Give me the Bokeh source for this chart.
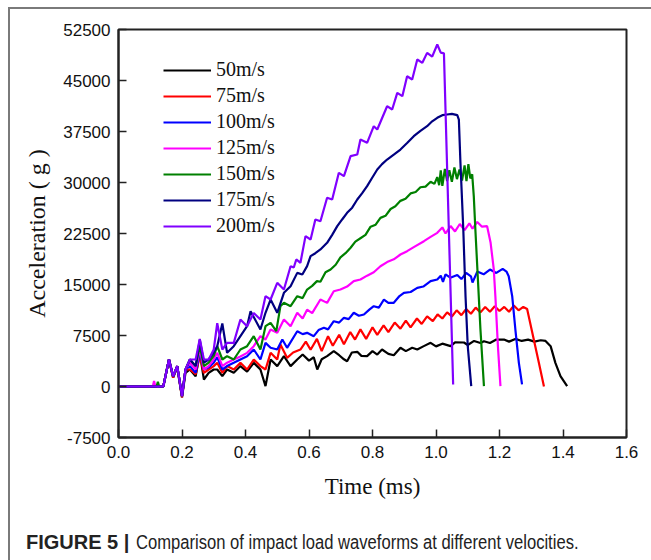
from bokeh.plotting import figure
from bokeh.models import (FixedTicker, NumeralTickFormatter, Legend, LegendItem,
                          Range1d, Div, Column)
from bokeh.embed import file_html
from bokeh.resources import INLINE

# ---------------- data (time in ms, acceleration in g) ----------------
labels = ["50m/s", "75m/s", "100m/s", "125m/s", "150m/s", "175m/s", "200m/s"]
colors = ["#000000", "#ff0000", "#0000ff", "#ff00ff", "#008000", "#000080", "#8000ff"]

x_ticks = [0.0, 0.2, 0.4, 0.6, 0.8, 1.0, 1.2, 1.4, 1.6]
y_ticks = [-7500, 0, 7500, 15000, 22500, 30000, 37500, 45000, 52500]

v50 = [(0, 0), (0.141, 0), (0.159, 3970), (0.172, 1300), (0.185, 2800), (0.200, -1600),
       (0.211, 2000), (0.225, 2500), (0.243, 1500), (0.256, 4950), (0.269, 1030), (0.284, 2000),
       (0.300, 2500), (0.311, 2500), (0.327, 1520), (0.342, 2500), (0.363, 2010), (0.384, 3000),
       (0.405, 2200), (0.426, 3480), (0.447, 2500), (0.463, 50), (0.479, 3970), (0.500, 3000),
       (0.521, 4460), (0.542, 3000), (0.563, 3970), (0.580, 4700), (0.600, 3800), (0.615, 4300),
       (0.626, 2500), (0.640, 4000), (0.657, 4460), (0.678, 5190), (0.695, 4600), (0.710, 4000),
       (0.720, 3720), (0.735, 5000), (0.752, 5100), (0.765, 4500), (0.783, 4460), (0.800, 5200),
       (0.815, 4700), (0.830, 5440), (0.850, 4800), (0.867, 4600), (0.888, 5690), (0.905, 5200),
       (0.925, 5700), (0.941, 5440), (0.960, 5900), (0.983, 6420), (1.000, 5900), (1.020, 6300),
       (1.046, 5930), (1.060, 6500), (1.088, 6470), (1.100, 6100), (1.120, 6700), (1.140, 6400),
       (1.151, 6660), (1.170, 6400), (1.190, 6900), (1.214, 6910), (1.230, 6600), (1.250, 7000),
       (1.270, 6700), (1.290, 6900), (1.310, 6600), (1.330, 6800), (1.345, 6700), (1.361, 5930),
       (1.376, 3480), (1.392, 1520), (1.413, 50)]

v75 = [(0, 0), (0.141, 0), (0.159, 3970), (0.172, 1300), (0.185, 3000), (0.200, -1600),
       (0.211, 2500), (0.225, 2500), (0.243, 1800), (0.256, 4500), (0.269, 2000), (0.284, 2500),
       (0.300, 3000), (0.311, 3500), (0.327, 2010), (0.342, 3000), (0.363, 2500), (0.384, 3480),
       (0.405, 2500), (0.426, 3970), (0.447, 3000), (0.463, 2500), (0.479, 4950), (0.500, 3970),
       (0.510, 6180), (0.531, 4220), (0.550, 5000), (0.573, 5440), (0.590, 6600), (0.605, 5400),
       (0.625, 7000), (0.640, 5200), (0.660, 7400), (0.675, 6000), (0.695, 7600), (0.710, 6200),
       (0.730, 8000), (0.745, 6900), (0.762, 8400), (0.780, 7000), (0.800, 8700), (0.815, 7600),
       (0.835, 9000), (0.850, 8000), (0.870, 9400), (0.888, 8500), (0.905, 9700), (0.920, 8700),
       (0.940, 10000), (0.955, 9200), (0.972, 10300), (0.990, 9600), (1.005, 10600), (1.020, 10000),
       (1.035, 10900), (1.050, 10300), (1.065, 11200), (1.080, 10500), (1.095, 11400), (1.110, 10700),
       (1.125, 11600), (1.140, 10900), (1.155, 11700), (1.170, 11000), (1.185, 11800), (1.200, 11100),
       (1.215, 11700), (1.230, 11000), (1.245, 11900), (1.260, 11200), (1.275, 11700), (1.287, 11400),
       (1.292, 10340), (1.308, 6910), (1.324, 3480), (1.340, 0)]

v100 = [(0, 0), (0.141, 0), (0.159, 3970), (0.172, 1500), (0.185, 3000), (0.200, -1400),
        (0.211, 2500), (0.225, 3000), (0.243, 2000), (0.256, 5000), (0.269, 2500), (0.284, 2800),
        (0.300, 3500), (0.311, 4300), (0.327, 2500), (0.342, 3000), (0.363, 3480), (0.384, 3970),
        (0.405, 4460), (0.426, 5440), (0.447, 3970), (0.463, 6420), (0.479, 5700), (0.500, 5440),
        (0.516, 6910), (0.531, 5690), (0.563, 8130), (0.580, 7700), (0.594, 7890), (0.615, 7400),
        (0.630, 8300), (0.647, 8630), (0.660, 8400), (0.678, 9600), (0.695, 9400), (0.710, 10100),
        (0.725, 9900), (0.741, 10840), (0.757, 10400), (0.773, 10590), (0.790, 11300), (0.804, 11810),
        (0.820, 11600), (0.836, 12790), (0.850, 12300), (0.867, 12310), (0.885, 13300), (0.899, 13780),
        (0.920, 13900), (0.941, 14510), (0.960, 14700), (0.983, 15490), (1.004, 15740), (1.015, 16300),
        (1.022, 15400), (1.030, 16500), (1.045, 16000), (1.067, 16400), (1.080, 15800), (1.095, 16700),
        (1.110, 16200), (1.115, 15300), (1.130, 16900), (1.150, 16500), (1.170, 17200), (1.190, 16700),
        (1.210, 17300), (1.222, 16900), (1.229, 16220), (1.240, 13280), (1.250, 8380), (1.261, 3480),
        (1.271, 300)]

v125 = [(0, 0), (0.108, 0), (0.112, 800), (0.116, 0), (0.141, 0), (0.159, 3970), (0.172, 1500),
        (0.185, 3000), (0.200, -1400), (0.211, 2500), (0.225, 3500), (0.243, 2500), (0.256, 5500),
        (0.269, 2500), (0.284, 3000), (0.300, 4000), (0.311, 4950), (0.327, 3000), (0.342, 3500),
        (0.363, 3970), (0.384, 4400), (0.405, 4950), (0.426, 5930), (0.447, 7400), (0.463, 6910),
        (0.479, 8380), (0.500, 7890), (0.521, 9850), (0.542, 8870), (0.563, 10840), (0.580, 10000),
        (0.594, 11300), (0.610, 10800), (0.636, 12790), (0.657, 12300), (0.678, 14000), (0.699, 14260),
        (0.720, 14700), (0.741, 15500), (0.762, 15740), (0.783, 16300), (0.804, 16800), (0.825, 17690),
        (0.846, 18300), (0.867, 18700), (0.888, 19410), (0.909, 19900), (0.930, 20500), (0.962, 21370),
        (0.983, 22000), (1.004, 22600), (1.020, 23400), (1.030, 22500), (1.046, 23600), (1.060, 22800),
        (1.075, 23900), (1.090, 23000), (1.105, 24000), (1.115, 23200), (1.130, 24200), (1.145, 23500),
        (1.161, 23580), (1.172, 21130), (1.182, 17210), (1.187, 13280), (1.195, 5930), (1.203, 50)]

v150 = [(0, 0), (0.120, 0), (0.124, 700), (0.128, 0), (0.141, 0), (0.159, 3970), (0.172, 1500),
        (0.185, 3000), (0.200, -1400), (0.211, 2500), (0.225, 3970), (0.243, 3000), (0.256, 6000),
        (0.269, 3000), (0.284, 3500), (0.300, 4500), (0.311, 5930), (0.327, 3970), (0.342, 4460),
        (0.363, 3970), (0.384, 5440), (0.405, 5930), (0.426, 7400), (0.447, 5440), (0.463, 8870),
        (0.479, 9360), (0.497, 8140), (0.510, 11810), (0.521, 12310), (0.542, 11810), (0.563, 13280),
        (0.580, 13000), (0.594, 14260), (0.610, 14800), (0.625, 15500), (0.636, 15400), (0.652, 16800),
        (0.668, 17200), (0.684, 17900), (0.699, 19000), (0.715, 19600), (0.731, 20400), (0.746, 21300),
        (0.762, 21800), (0.778, 22300), (0.794, 23500), (0.810, 23800), (0.825, 24800), (0.841, 25100),
        (0.857, 26100), (0.872, 26500), (0.888, 27300), (0.904, 27600), (0.920, 28400), (0.936, 28600),
        (0.951, 29300), (0.967, 29400), (0.983, 30100), (0.995, 29800), (1.004, 30800), (1.010, 29600),
        (1.015, 31800), (1.020, 29500), (1.028, 32000), (1.035, 30200), (1.042, 31800), (1.050, 30100),
        (1.058, 32200), (1.066, 30500), (1.074, 31900), (1.082, 30300), (1.090, 32500), (1.096, 30200),
        (1.102, 32700), (1.108, 30600), (1.114, 31200), (1.119, 27990), (1.124, 23090), (1.132, 15740),
        (1.140, 8380), (1.151, 50)]

v175 = [(0, 0), (0.141, 0), (0.159, 3970), (0.172, 1500), (0.185, 3000), (0.200, -1400),
        (0.211, 2500), (0.225, 3970), (0.243, 3000), (0.256, 6900), (0.269, 3500), (0.284, 3970),
        (0.300, 5000), (0.311, 5930), (0.327, 9260), (0.342, 4950), (0.363, 5930), (0.384, 7400),
        (0.405, 8870), (0.416, 11080), (0.447, 8380), (0.463, 10840), (0.479, 12790), (0.500, 10840),
        (0.521, 13780), (0.542, 14750), (0.563, 16710), (0.579, 16470), (0.594, 17700), (0.605, 19170),
        (0.620, 19600), (0.636, 20150), (0.657, 21130), (0.673, 22300), (0.689, 23580), (0.705, 24600),
        (0.720, 25540), (0.736, 26300), (0.752, 27500), (0.767, 28400), (0.783, 29460), (0.799, 30700),
        (0.815, 31910), (0.830, 32700), (0.846, 33380), (0.867, 34100), (0.888, 34850), (0.909, 35800),
        (0.930, 36810), (0.951, 37600), (0.972, 38280), (0.988, 39000), (1.004, 39510), (1.020, 39900),
        (1.035, 40000), (1.050, 40100), (1.067, 39900), (1.072, 39260), (1.077, 32890), (1.086, 23090),
        (1.093, 13280), (1.100, 5930), (1.111, 50)]

v200 = [(0, 0), (0.141, 0), (0.159, 3970), (0.172, 1500), (0.185, 3000), (0.200, -1400),
        (0.211, 2500), (0.225, 3970), (0.243, 3970), (0.256, 7000), (0.269, 3970), (0.284, 3970),
        (0.300, 5440), (0.311, 9300), (0.327, 5440), (0.342, 6420), (0.363, 6420), (0.384, 9850),
        (0.405, 8870), (0.426, 10800), (0.447, 9850), (0.463, 13280), (0.479, 12790), (0.500, 15250),
        (0.521, 14260), (0.542, 17690), (0.552, 17500), (0.560, 18680), (0.573, 18190), (0.589, 22110),
        (0.605, 21620), (0.620, 24560), (0.636, 24310), (0.657, 27750), (0.673, 27500), (0.694, 31420),
        (0.710, 30930), (0.731, 33870), (0.752, 34120), (0.762, 36320), (0.783, 35840), (0.804, 38280),
        (0.815, 37790), (0.846, 41220), (0.862, 40730), (0.878, 43190), (0.894, 42700), (0.909, 45630),
        (0.925, 45150), (0.941, 48090), (0.957, 47600), (0.972, 49060), (0.988, 48500), (1.004, 50290),
        (1.015, 49100), (1.025, 49000), (1.054, 300)]

series = [v50, v75, v100, v125, v150, v175, v200]

caption_head = "FIGURE 5 |"
caption_body = "Comparison of impact load waveforms at different velocities."

# ---------------- figure ----------------
SERIF = "Liberation Serif"
SANS = "Liberation Sans"

p = figure(width=641, height=508, output_backend="svg", toolbar_location=None,
           x_range=Range1d(0, 1.6), y_range=Range1d(-7500, 52500),
           min_border_left=108, min_border_right=25, min_border_top=20, min_border_bottom=80)

p.xgrid.visible = False
p.ygrid.visible = False
p.outline_line_color = "#222222"
p.outline_line_width = 2
p.outline_line_alpha = 1
p.background_fill_color = "white"
p.border_fill_color = "white"

p.xaxis.ticker = FixedTicker(ticks=x_ticks)
p.xaxis.formatter = NumeralTickFormatter(format="0.0")
p.yaxis.ticker = FixedTicker(ticks=y_ticks)
p.yaxis.formatter = NumeralTickFormatter(format="0")

for ax in (p.xaxis[0], p.yaxis[0]):
    ax.axis_line_color = "#222222"
    ax.axis_line_width = 2
    ax.major_tick_in = 8
    ax.major_tick_out = 0
    ax.major_tick_line_width = 1.5
    ax.major_tick_line_color = "#222222"
    ax.minor_tick_in = 0
    ax.minor_tick_out = 0
    ax.major_label_text_font = SANS
    ax.major_label_text_font_size = "17px"
    ax.major_label_text_color = "#111111"
    ax.major_label_standoff = 8
    ax.axis_label_text_font = SERIF
    ax.axis_label_text_font_style = "normal"
    ax.axis_label_text_color = "#111111"

p.xaxis.axis_label = "Time (ms)"
p.xaxis.axis_label_text_font_size = "23px"
p.xaxis.axis_label_standoff = 13
p.yaxis.axis_label = "Acceleration ( g )"
p.yaxis.axis_label_text_font_size = "24px"
p.yaxis.axis_label_standoff = 10

items = []
for lab, col, pts in zip(labels, colors, series):
    ts = [q[0] for q in pts]
    acc = [q[1] for q in pts]
    r = p.line(ts, acc, line_color=col, line_width=2.2)
    items.append(LegendItem(label=lab, renderers=[r]))

legend = Legend(items=items, location=(45, 200))
legend.border_line_color = None
legend.background_fill_alpha = 0
legend.padding = 0
legend.margin = 0
legend.spacing = 3
legend.glyph_width = 48
legend.glyph_height = 20
legend.label_height = 20
legend.label_standoff = 5
legend.label_text_font = SERIF
legend.label_text_font_size = "20px"
legend.label_text_color = "#111111"
p.add_layout(legend)

caption_html = (
    '<div style="padding:10px 0 0 11px; line-height:20px; white-space:nowrap; '
    'font-family:\'Liberation Sans\'; font-size:20px; color:#222222;">'
    '<span style="font-weight:bold;">' + caption_head + '</span>'
    '<span style="display:inline-block; transform:scaleX(0.83); transform-origin:0 50%; '
    'margin-left:7px;">' + caption_body + '</span></div>'
)
caption = Div(text=caption_html, width=641, height=43)

layout = Column(children=[p, caption], spacing=0,
                styles={"margin-left": "8px", "margin-top": "7px",
                        "border-left": "2px solid #7a7a7a", "border-top": "2px solid #7a7a7a"})

open("out.html", "w").write(file_html(layout, INLINE))
